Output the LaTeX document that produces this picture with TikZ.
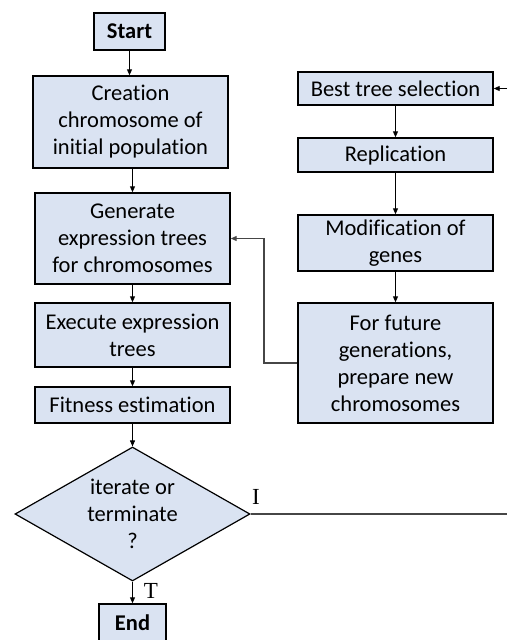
\documentclass[tikz,border=0pt]{standalone}
\usepackage{fontspec}
\setmainfont{Carlito}[Ligatures=NoCommon]
\newfontfamily\serifA{Liberation Serif}
\usetikzlibrary{shapes.geometric,arrows.meta}
\definecolor{boxfill}{RGB}{218,227,242}
\definecolor{linegray}{RGB}{70,70,70}
\tikzset{
  procbox/.style={draw=black, line width=1.4pt, fill=boxfill, rectangle, inner sep=0pt,
    align=center, font=\fontsize{22.5}{27}\selectfont},
  decbox/.style={draw=black, line width=1.2pt, fill=boxfill, diamond, inner sep=0pt,
    shape aspect=1.75, align=center, font=\fontsize{22.5}{27}\selectfont},
  conn/.style={draw=black, line width=0.9pt, -{Triangle[length=6pt,width=5pt]}},
  plainconn/.style={draw=linegray, line width=1.1pt},
  letter/.style={font=\serifA\fontsize{23}{26}\selectfont, inner sep=0pt}
}
\begin{document}
\begin{tikzpicture}[x=1pt,y=-1pt]
\useasboundingbox (0,0) rectangle (507,640);
% left column
\node[procbox, minimum width=71pt, minimum height=37pt] (start) at (129.5,31.5) {\textbf{Start}};
\node[procbox, minimum width=195pt, minimum height=92pt] (create) at (130.5,122) {Creation\\chromosome of\\initial population};
\node[procbox, minimum width=195pt, minimum height=91pt] (gen) at (132.5,238.5) {Generate\\expression trees\\for chromosomes};
\node[procbox, minimum width=195pt, minimum height=64pt] (exec) at (132.5,335) {Execute expression\\trees};
\node[procbox, minimum width=195pt, minimum height=36pt] (fit) at (132.5,405) {Fitness estimation};
\node[decbox, minimum width=235pt, minimum height=134pt] (dec) at (132.5,514) {iterate or\\terminate\\?};
\node[procbox, minimum width=67pt, minimum height=37pt] (end) at (132.5,622.5) {\textbf{End}};
% right column
\node[procbox, minimum width=195pt, minimum height=33pt] (best) at (395.5,88.5) {Best tree selection};
\node[procbox, minimum width=195pt, minimum height=34pt] (rep) at (395.5,155) {Replication};
\node[procbox, minimum width=195pt, minimum height=56pt] (mod) at (395.5,243) {Modification of\\genes};
\node[procbox, minimum width=195pt, minimum height=120pt] (fut) at (395.5,363) {For future\\generations,\\prepare new\\chromosomes};
% free ends
\coordinate (edgeI) at (507,514);
\coordinate (edgeB) at (507,88.5);
\coordinate (bendA) at (264,363);
\coordinate (bendB) at (264,238.5);
% connectors
\draw[conn] (start.south) -- (create.north -| start.south);
\draw[conn] (create.south -| gen.north) -- (gen.north);
\draw[conn] (gen.south) -- (exec.north);
\draw[conn] (exec.south) -- (fit.north);
\draw[conn] (fit.south) -- (dec.north);
\draw[conn] (dec.south) -- (end.north);
\draw[conn] (best.south) -- (rep.north);
\draw[conn] (rep.south) -- (mod.north);
\draw[conn] (mod.south) -- (fut.north);
\draw[plainconn, -{Triangle[length=6pt,width=5pt]}] (fut.west |- bendA) -- (bendA) -- (bendB) -- (gen.east);
\draw[conn] (edgeB) -- (best.east);
\draw[plainconn] (dec.east) -- (edgeI);
% labels
\node[letter] (lblI) at (256,497) {I};
\node[letter] (lblT) at (151,591) {T};
\end{tikzpicture}
\end{document}
